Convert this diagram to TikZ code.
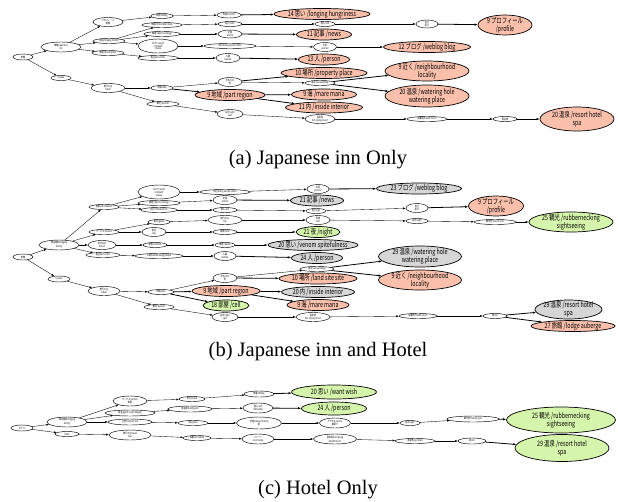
\documentclass[tikz,border=0pt]{standalone}
\usepackage{fontspec}
\setmainfont{Liberation Serif}
\newfontfamily\jpfont[FakeStretch=0.72]{Noto Sans CJK JP}
\usetikzlibrary{shapes.geometric,arrows.meta}
\definecolor{salmonc}{RGB}{250,192,172}
\definecolor{grayc}{RGB}{214,214,214}
\definecolor{greenc}{RGB}{214,245,172}
\begin{document}
\begin{tikzpicture}[x=1pt,y=-1pt]
 \tikzset{directed/.style={-{Latex[length=2.6pt,width=2pt]}, line width=0.35pt},
  strong/.style={-{Latex[length=3pt,width=2.4pt]}, line width=0.8pt},
  sz/.style 2 args={minimum width=#1pt, minimum height=#2pt},
  sm/.style={draw, ellipse, line width=0.45pt, inner xsep=-30pt, inner ysep=-8pt, align=center, fill=white,
   font=\jpfont\fontsize{2.8}{2.9}\selectfont},
  big/.style={draw, ellipse, line width=0.7pt, inner xsep=-40pt, inner ysep=-10pt, align=center,
   font=\jpfont\fontsize{7.4}{8}\selectfont},
  salmonnode/.style={big, fill=salmonc},
  graynode/.style={big, fill=grayc},
  greennode/.style={big, fill=greenc},
  captext/.style={font=\fontsize{20.5}{23}\selectfont}}
 \useasboundingbox (0,0) rectangle (618,501);
 % (a) Japanese inn only
 \node[sm, sz={20}{6}] (a0) at (23,57) {旅館};
 \node[sm, sz={40}{10}] (a1) at (61,47) {旅館/japanese\\inn};
 \node[sm, sz={20}{5}] (a2) at (61,78) {ryokan};
 \node[sm, sz={30}{9}] (a3) at (108,22) {プロフィール\\情報};
 \node[sm, sz={32}{5}] (a4) at (109,41) {宿泊/lodging facility};
 \node[sm, sz={32}{5}] (a5) at (108,53) {施設/facility place};
 \node[sm, sz={22}{5}] (a6) at (162,16) {感想/feeling};
 \node[sm, sz={24}{6}] (a7) at (229,15) {気持ち/mind};
 \node[salmonnode, sz={96}{11}] (a8) at (322,14) {14 思い /longing hungriness};
 \node[sm, sz={40}{5}] (a9) at (162,25) {情報/information data};
 \node[sm, sz={24}{5}] (a10) at (230,24) {紹介/intro};
 \node[sm, sz={20}{5}] (a11) at (325,24) {個人/self};
 \node[sm, sz={22}{8}] (a12) at (427,24) {自己\\紹介};
 \node[salmonnode, sz={54}{20}] (a13) at (505,25) {9 プロフィール\\/profile};
 \node[sm, sz={36}{5}] (a14) at (162,34) {報道/report coverage};
 \node[sm, sz={24}{8}] (a15) at (230,34) {記事\\article};
 \node[salmonnode, sz={55}{11}] (a16) at (324,34.5) {11 記事 /news};
 \node[sm, sz={40}{14}] (a17) at (158,46) {口コミ/word\\of mouth\\review};
 \node[sm, sz={52}{5}] (a18) at (230,46) {日記/diary journal online};
 \node[sm, sz={23}{9}] (a19) at (325,47) {日記\\journal};
 \node[salmonnode, sz={87}{11}] (a20) at (427,47) {12 ブログ /weblog blog};
 \node[sm, sz={40}{5}] (a21) at (158,58) {客/guest visitor};
 \node[sm, sz={24}{9}] (a22) at (228,58) {人間\\human};
 \node[salmonnode, sz={51}{11}] (a23) at (324,59.5) {13 人 /person};
 \node[sm, sz={34}{9}] (a24) at (108,88) {旅行/trip\\travel};
 \node[sm, sz={22}{5}] (a25) at (162,88) {地域/area};
 \node[sm, sz={24}{9}] (a26) at (230,82) {所在/site\\地};
 \node[salmonnode, sz={86}{11}] (a27) at (324,73) {10 場所 /property place};
 \node[sm, sz={30}{5}] (a28) at (320,83) {周辺/surroundings};
 \node[salmonnode, sz={84}{20}] (a29) at (427,71) {9 近く /neighbourhood\\locality};
 \node[salmonnode, sz={84}{22}] (a30) at (427,96) {20 温泉 /watering hole\\watering place};
 \node[salmonnode, sz={70}{11}] (a31) at (230,95) {9 地域 /part region};
 \node[salmonnode, sz={65}{11}] (a32) at (324,94.5) {9 海 /mare maria};
 \node[salmonnode, sz={77}{11}] (a33) at (324,107.5) {11 内 /inside interior};
 \node[sm, sz={32}{5}] (a34) at (163,104) {観光/tourism};
 \node[sm, sz={26}{9}] (a35) at (230,114) {名所/sight\\spot};
 \node[sm, sz={30}{9}] (a36) at (320,119) {温泉地\\hot spring resort};
 \node[sm, sz={40}{5}] (a37) at (427,119) {保養地/health resort};
 \node[sm, sz={24}{5}] (a38) at (505,119) {湯治場};
 \node[salmonnode, sz={74}{24}] (a39) at (577,119) {20 温泉 /resort hotel\\spa};
 \draw[directed] (a0) -- (a1);
 \draw[directed] (a0) -- (a2);
 \draw[directed] (a1) -- (a3);
 \draw[directed] (a1) -- (a4);
 \draw[directed] (a1) -- (a5);
 \draw[directed] (a3) -- (a6);
 \draw[directed] (a6) -- (a7);
 \draw[strong] (a7) -- (a8);
 \draw[directed] (a4) -- (a9);
 \draw[directed] (a4) -- (a14);
 \draw[directed] (a4) -- (a17);
 \draw[directed] (a5) -- (a21);
 \draw[directed] (a9) -- (a10);
 \draw[directed] (a10) -- (a11);
 \draw[directed] (a11) -- (a12);
 \draw[strong] (a12) -- (a13);
 \draw[directed] (a14) -- (a15);
 \draw[strong] (a15) -- (a16);
 \draw[directed] (a17) -- (a18);
 \draw[directed] (a18) -- (a19);
 \draw[strong] (a19) -- (a20);
 \draw[directed] (a21) -- (a22);
 \draw[strong] (a22) -- (a23);
 \draw[directed] (a2) -- (a24);
 \draw[directed] (a24) -- (a25);
 \draw[directed] (a24) -- (a34);
 \draw[directed] (a25) -- (a26);
 \draw[strong] (a25) -- (a31);
 \draw[strong] (a26) -- (a27);
 \draw[directed] (a26) -- (a28);
 \draw[strong] (a28) -- (a29);
 \draw[strong] (a28) -- (a30);
 \draw[strong] (a31) -- (a32);
 \draw[strong] (a31) -- (a33);
 \draw[directed] (a34) -- (a35);
 \draw[directed] (a35) -- (a36);
 \draw[directed] (a36) -- (a37);
 \draw[directed] (a37) -- (a38);
 \draw[strong] (a38) -- (a39);
 \node[captext] (capa) at (318,160) {(a) Japanese inn Only};
 % (b) Japanese inn and hotel
 \node[sm, sz={20}{6}] (b0) at (23,257) {旅館};
 \node[sm, sz={40}{10}] (b1) at (59,245) {宿泊施設/lodging\\facility};
 \node[sm, sz={22}{6}] (b2) at (59,279) {ryokan};
 \node[sm, sz={30}{5}] (b3) at (104,207) {情報/information};
 \node[sm, sz={30}{5}] (b4) at (104,232) {サービス/service};
 \node[sm, sz={28}{9}] (b5) at (102,245) {気分/feel\\mood};
 \node[sm, sz={34}{5}] (b6) at (103,255) {客/guest visitor};
 \node[sm, sz={42}{14}] (b7) at (159,192) {口コミ/word\\of mouth\\review};
 \node[sm, sz={42}{5}] (b8) at (159,203) {報道/report coverage};
 \node[sm, sz={36}{5}] (b9) at (159,210) {紹介/introduction};
 \node[sm, sz={22}{5}] (b10) at (159,222) {案内/guide};
 \node[sm, sz={24}{9}] (b11) at (154,232) {宿泊\\stay};
 \node[sm, sz={24}{5}] (b12) at (155,245) {感情/emotion};
 \node[sm, sz={48}{5}] (b13) at (159,256) {人間/human being people};
 \node[sm, sz={32}{9}] (b14) at (104,291) {旅行/trip\\travel};
 \node[sm, sz={26}{5}] (b15) at (161,292) {地域/area};
 \node[sm, sz={30}{5}] (b16) at (159,307) {観光/tourism};
 \node[sm, sz={50}{5}] (b17) at (225,192) {日記/diary journal online};
 \node[sm, sz={22}{9}] (b18) at (318,189) {日記\\journal};
 \node[graynode, sz={85}{11}] (b19) at (419,188.5) {23 ブログ /weblog blog};
 \node[sm, sz={24}{9}] (b20) at (225,200) {記事\\article};
 \node[graynode, sz={53}{11}] (b21) at (317,200.5) {21 記事 /news};
 \node[sm, sz={24}{5}] (b22) at (225,210) {個人/self};
 \node[sm, sz={20}{5}] (b23) at (316,211) {自己/ego};
 \node[sm, sz={22}{9}] (b24) at (417,208) {自己\\紹介};
 \node[salmonnode, sz={55}{20}] (b25) at (496,206) {9 プロフィール\\/profile};
 \node[sm, sz={34}{9}] (b26) at (225,220) {旅行/tour\\trip};
 \node[sm, sz={24}{9}] (b27) at (318,220) {見物\\visit};
 \node[sm, sz={22}{5}] (b28) at (417,221) {名所/sight};
 \node[sm, sz={42}{5}] (b29) at (495,222) {観光地/tourist spot};
 \node[greennode, sz={84}{20}] (b30) at (571,222) {25 観光 /rubbernecking\\sightseeing};
 \node[sm, sz={24}{5}] (b31) at (225,232) {時間/time};
 \node[greennode, sz={44}{11}] (b32) at (318,232) {21 夜 /night};
 \node[sm, sz={20}{5}] (b33) at (225,245) {悪意/malice};
 \node[graynode, sz={90}{11}] (b34) at (313,245) {20 思い /venom spitefulness};
 \node[sm, sz={22}{9}] (b35) at (225,256) {人間\\human};
 \node[graynode, sz={51}{11}] (b36) at (317,258) {24 人 /person};
 \node[sm, sz={24}{9}] (b37) at (225,278) {所在/site\\地};
 \node[sm, sz={34}{5}] (b38) at (317,269) {周辺/surroundings};
 \node[graynode, sz={83}{21}] (b39) at (420,256.5) {29 温泉 /watering hole\\watering place};
 \node[salmonnode, sz={83}{20}] (b40) at (420,280) {9 近く /neighbourhood\\locality};
 \node[salmonnode, sz={78}{11}] (b41) at (318,278.5) {10 場所 /land site site};
 \node[salmonnode, sz={68}{11}] (b42) at (226,291) {9 地域 /part region};
 \node[greennode, sz={46}{11}] (b43) at (226,305.5) {18 部屋 /cell};
 \node[graynode, sz={73}{11}] (b44) at (318,292) {20 内 /inside interior};
 \node[salmonnode, sz={62}{11}] (b45) at (318,305) {9 海 /mare maria};
 \node[sm, sz={26}{9}] (b46) at (225,317) {名所/sight\\spot};
 \node[sm, sz={34}{9}] (b47) at (313,317) {温泉地\\hot spring resort};
 \node[sm, sz={38}{5}] (b48) at (418,316) {保養地/health resort};
 \node[sm, sz={24}{5}] (b49) at (495,316) {宿/inn};
 \node[graynode, sz={67}{19}] (b50) at (568.5,309.5) {29 温泉 /resort hotel\\spa};
 \node[salmonnode, sz={84}{11}] (b51) at (573,326) {27 旅館 /lodge auberge};
 \draw[directed] (b0) -- (b1);
 \draw[directed] (b0) -- (b2);
 \draw[directed] (b1) -- (b3);
 \draw[directed] (b1) -- (b4);
 \draw[directed] (b1) -- (b5);
 \draw[directed] (b1) -- (b6);
 \draw[directed] (b3) -- (b7);
 \draw[directed] (b3) -- (b8);
 \draw[directed] (b3) -- (b9);
 \draw[directed] (b4) -- (b10);
 \draw[directed] (b4) -- (b11);
 \draw[directed] (b5) -- (b12);
 \draw[directed] (b6) -- (b13);
 \draw[directed] (b2) -- (b14);
 \draw[directed] (b14) -- (b15);
 \draw[directed] (b14) -- (b16);
 \draw[directed] (b7) -- (b17);
 \draw[directed] (b17) -- (b18);
 \draw[strong] (b18) -- (b19);
 \draw[directed] (b8) -- (b20);
 \draw[strong] (b20) -- (b21);
 \draw[directed] (b9) -- (b22);
 \draw[directed] (b22) -- (b23);
 \draw[directed] (b23) -- (b24);
 \draw[strong] (b24) -- (b25);
 \draw[directed] (b10) -- (b26);
 \draw[directed] (b26) -- (b27);
 \draw[directed] (b27) -- (b28);
 \draw[directed] (b28) -- (b29);
 \draw[strong] (b29) -- (b30);
 \draw[directed] (b11) -- (b31);
 \draw[strong] (b31) -- (b32);
 \draw[directed] (b12) -- (b33);
 \draw[strong] (b33) -- (b34);
 \draw[directed] (b13) -- (b35);
 \draw[strong] (b35) -- (b36);
 \draw[directed] (b15) -- (b37);
 \draw[directed] (b37) -- (b38);
 \draw[strong] (b38) -- (b39);
 \draw[strong] (b38) -- (b40);
 \draw[strong] (b37) -- (b41);
 \draw[strong] (b15) -- (b42);
 \draw[strong] (b15) -- (b43);
 \draw[strong] (b42) -- (b44);
 \draw[strong] (b42) -- (b45);
 \draw[directed] (b16) -- (b46);
 \draw[directed] (b46) -- (b47);
 \draw[directed] (b47) -- (b48);
 \draw[directed] (b48) -- (b49);
 \draw[strong] (b49) -- (b50);
 \draw[strong] (b49) -- (b51);
 \node[captext] (capb) at (318,352) {(b) Japanese inn and Hotel};
 % (c) Hotel only
 \node[sm, sz={22}{6}] (c0) at (22,428) {ホテル};
 \node[sm, sz={40}{10}] (c1) at (67,422) {宿泊施設/lodging\\facility};
 \node[sm, sz={24}{5}] (c2) at (67,434) {hotel};
 \node[sm, sz={34}{10}] (c3) at (130,401) {サービス/service\\接客};
 \node[sm, sz={50}{6}] (c4) at (130,413) {客室/guest room lodging};
 \node[sm, sz={44}{6}] (c5) at (130,422) {立地/location site};
 \node[sm, sz={42}{10}] (c6) at (130,435) {旅行/trip travel\\tour};
 \node[sm, sz={26}{5}] (c7) at (192,399) {気分/mood};
 \node[sm, sz={30}{6}] (c8) at (259,394) {感情/feeling};
 \node[greennode, sz={85}{14}] (c9) at (334,392) {20 思い /want wish};
 \node[sm, sz={44}{6}] (c10) at (190,409) {宿泊客/hotel guest};
 \node[sm, sz={30}{10}] (c11) at (258,408) {個人/self\\individual};
 \node[greennode, sz={65}{13}] (c12) at (334,408.5) {24 人 /person};
 \node[sm, sz={30}{5}] (c13) at (193,423) {周辺/area};
 \node[sm, sz={45}{12}] (c14) at (259,423) {交通/transportation\\駅};
 \node[sm, sz={31}{10}] (c15) at (335,423) {アクセス/access\\最寄り};
 \node[sm, sz={20}{5}] (c16) at (410,423) {名所/sight};
 \node[sm, sz={52}{6}] (c17) at (473,419) {観光地/tourist spot};
 \node[greennode, sz={109}{26}] (c18) at (561,420) {25 観光 /rubbernecking\\sightseeing};
 \node[sm, sz={28}{5}] (c19) at (197,438) {保養/recreation};
 \node[sm, sz={32}{10}] (c20) at (258,439) {リゾート\\resort area};
 \node[sm, sz={43}{10}] (c21) at (335,439) {温泉地/hot spring\\health resort};
 \node[sm, sz={40}{5}] (c22) at (415,441) {湯治場/spa town};
 \node[sm, sz={28}{6}] (c23) at (472,441) {宿/inn};
 \node[greennode, sz={94}{27}] (c24) at (562,448) {29 温泉 /resort hotel\\spa};
 \draw[directed] (c0) -- (c1);
 \draw[directed] (c0) -- (c2);
 \draw[directed] (c1) -- (c3);
 \draw[directed] (c1) -- (c4);
 \draw[directed] (c1) -- (c5);
 \draw[directed] (c2) -- (c6);
 \draw[directed] (c3) -- (c7);
 \draw[directed] (c7) -- (c8);
 \draw[strong] (c8) -- (c9);
 \draw[directed] (c4) -- (c10);
 \draw[directed] (c10) -- (c11);
 \draw[strong] (c11) -- (c12);
 \draw[directed] (c5) -- (c13);
 \draw[directed] (c13) -- (c14);
 \draw[directed] (c14) -- (c15);
 \draw[directed] (c15) -- (c16);
 \draw[directed] (c16) -- (c17);
 \draw[strong] (c17) -- (c18);
 \draw[directed] (c6) -- (c19);
 \draw[directed] (c19) -- (c20);
 \draw[directed] (c20) -- (c21);
 \draw[directed] (c21) -- (c22);
 \draw[directed] (c22) -- (c23);
 \draw[strong] (c23) -- (c24);
 \node[captext] (capc) at (318,490) {(c) Hotel Only};
\end{tikzpicture}
\end{document}
